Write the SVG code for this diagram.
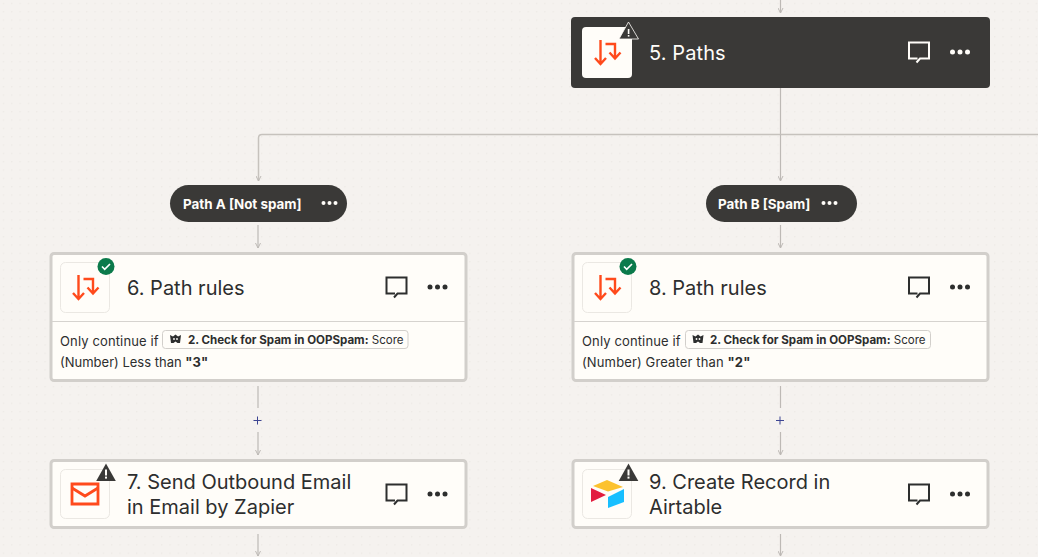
<svg xmlns="http://www.w3.org/2000/svg" width="1038" height="557" viewBox="0 0 1038 557">
<style>
text{font-family:Inter,"Liberation Sans",sans-serif}
.card{fill:#fffdf9;stroke:#d2cfcb;stroke-width:3}
.ibox{fill:#fffdf9;stroke:#ebe8e3;stroke-width:1}
.title{font-size:20px;fill:#2d2e2e}
.sub{font-size:13px;fill:#2d2e2e}
.wide{letter-spacing:.13px}
.chip{fill:#fffdf9;stroke:#d2cfcb;stroke-width:1}
.chipt{font-size:11.55px;fill:#2d2e2e}
.b{font-weight:700}
.pillt{font-size:13.4px;font-weight:700;fill:#fffdf9}
.line{fill:none;stroke:#bdb9b5;stroke-width:1.2}
.plus{stroke:#3d4592;stroke-width:1;fill:none}
.rule{stroke:#d6d3cf;stroke-width:1}
</style>
<defs>
<pattern id="dots" width="8.33" height="8.33" patternUnits="userSpaceOnUse"><rect x="3" y="3" width="1" height="1" fill="#e6e3de"/></pattern>
<marker id="arr" markerWidth="8" markerHeight="6" refX="6.5" refY="3" orient="auto" markerUnits="userSpaceOnUse"><path d="M1.5 .5L6.5 3L1.5 5.5" fill="none" stroke="#bdb9b5" stroke-width="1"/></marker>
<g id="paths-icon" fill="none" stroke="#ff4a1c" stroke-width="2.4">
<path d="M0-12V11.500M-5.500 6L0 12L5.500 6"/>
<path d="M5-8H14.500V6M9 .5L14.500 6.500L20 .5"/>
</g>
<g id="comment"><path d="M-2.500 10.500L1 6.500H10V-9.500H-10V6.500H-1.500" fill="none" stroke-width="2"/></g>
<g id="warn"><path d="M0-9.500L9.800 8H-9.800Z" fill="#3a3937"/><rect x="-1" y="-3.500" width="2" height="6" fill="#fffdf9"/><rect x="-1" y="3.600" width="2" height="2" fill="#fffdf9"/></g>
<g id="ok"><circle r="8.500" fill="#0b7a4b"/><path d="M-4 0L-1.300 2.800L4-2.500" fill="none" stroke="#fff" stroke-width="1.700"/></g>
<g id="oop"><path d="M-5.500-4L-2.500-2.500L0-4.500L2.500-2.500L5.500-4L4.500 4H2L0 2.500L-2 4H-4.500Z" fill="#2d2e2e"/><circle cx="-1.500" cy="0" r=".9" fill="#fffdf9"/><circle cx="1.500" cy="0" r=".9" fill="#fffdf9"/></g>
</defs>
<rect width="1038" height="557" fill="#f5f2ef"/>
<rect width="1038" height="557" fill="url(#dots)"/>
<g id="connectors">
<path class="line" marker-end="url(#arr)" d="M780.500 0V13"/>
<path class="line" d="M780.500 88V134.500"/>
<path class="line" style="stroke:#c6c2bd;stroke-width:1.500" d="M1038 134.500H262Q258.500 134.500 258.500 138V181" marker-end="url(#arr)"/>
<path class="line" marker-end="url(#arr)" d="M780.500 134.500V181"/>
<path class="line" marker-end="url(#arr)" d="M258 225V248"/>
<path class="line" marker-end="url(#arr)" d="M780.500 225V248"/>
<path class="line" d="M258 386V408"/><path class="line" marker-end="url(#arr)" d="M258 432V455"/>
<path class="line" d="M780.500 386V408"/><path class="line" marker-end="url(#arr)" d="M780.500 432V455"/>
<path class="line" marker-end="url(#arr)" d="M258 534V556"/>
<path class="line" marker-end="url(#arr)" d="M780.500 534V556"/>
<path class="plus" d="M253.500 420.500H261.500M257.500 416.500V424.500"/>
<path class="plus" d="M776 420.500H784M780 416.500V424.500"/>
</g>
<g id="node-5">
<rect x="571" y="17" width="419" height="71" rx="4" fill="#3a3937"/>
<rect x="582" y="27" width="50" height="51" rx="4" fill="#fffdf9"/>
<use href="#paths-icon" x="600.500" y="52"/>
<path d="M628.500 22L638.500 39H619Z" fill="#3a3937" stroke="#fffdf9" stroke-width=".8"/>
<rect x="627.800" y="29" width="1.600" height="5" fill="#fffdf9"/><rect x="627.800" y="35" width="1.600" height="1.600" fill="#fffdf9"/>
<text x="649" y="60" class="title" style="fill:#fffdf9;letter-spacing:.1px">5. Paths</text>
<use href="#comment" x="919" y="52" stroke="#fffdf9"/>
<g fill="#fffdf9"><circle cx="952.500" cy="52" r="2.500"/><circle cx="960" cy="52" r="2.500"/><circle cx="967.500" cy="52" r="2.500"/></g>
</g>
<g id="pill-a">
<rect x="170" y="185" width="177" height="37" rx="18.500" fill="#3a3937"/>
<text x="183" y="209" class="pillt">Path A [Not spam]</text>
<g fill="#fffdf9"><circle cx="323.500" cy="203" r="2"/><circle cx="329.500" cy="203" r="2"/><circle cx="335.500" cy="203" r="2"/></g>
</g>
<g id="pill-b">
<rect x="706" y="185" width="151" height="37" rx="18.500" fill="#3a3937"/>
<text x="718" y="209" class="pillt">Path B [Spam]</text>
<g fill="#fffdf9"><circle cx="823.500" cy="203" r="2"/><circle cx="829.500" cy="203" r="2"/><circle cx="835.500" cy="203" r="2"/></g>
</g>
<g id="node-6">
<rect class="card" x="51" y="253.500" width="415" height="127" rx="3"/>
<rect class="ibox" x="60.500" y="262.500" width="49" height="50" rx="5"/>
<use href="#paths-icon" x="78.500" y="287"/>
<use href="#ok" x="106" y="266.500"/>
<text x="127" y="295" class="title">6. Path rules</text>
<use href="#comment" x="396.500" y="287" stroke="#2d2e2e"/>
<g fill="#2d2e2e"><circle cx="430" cy="287" r="2.500"/><circle cx="437.500" cy="287" r="2.500"/><circle cx="445" cy="287" r="2.500"/></g>
<line class="rule" x1="52" y1="321.500" x2="465" y2="321.500"/>
<text x="60" y="346" class="sub wide">Only continue if</text>
<rect class="chip" x="162.500" y="330.500" width="245.500" height="18" rx="3"/>
<use href="#oop" x="175.500" y="339"/>
<text x="188" y="344" class="chipt"><tspan class="b">2. Check for Spam in OOPSpam:</tspan> Score</text>
<text x="60" y="367" class="sub">(Number) Less than <tspan class="b">"3"</tspan></text>
</g>
<g id="node-8">
<rect class="card" x="573" y="253.500" width="415" height="127" rx="3"/>
<rect class="ibox" x="582.500" y="262.500" width="49" height="50" rx="5"/>
<use href="#paths-icon" x="600.500" y="287"/>
<use href="#ok" x="628" y="266.500"/>
<text x="649" y="295" class="title">8. Path rules</text>
<use href="#comment" x="919" y="287" stroke="#2d2e2e"/>
<g fill="#2d2e2e"><circle cx="952.500" cy="287" r="2.500"/><circle cx="960" cy="287" r="2.500"/><circle cx="967.500" cy="287" r="2.500"/></g>
<line class="rule" x1="574" y1="321.500" x2="987" y2="321.500"/>
<text x="582" y="346" class="sub wide">Only continue if</text>
<rect class="chip" x="685.500" y="330.500" width="245" height="18" rx="3"/>
<use href="#oop" x="698" y="339"/>
<text x="710" y="344" class="chipt"><tspan class="b">2. Check for Spam in OOPSpam:</tspan> Score</text>
<text x="582" y="367" class="sub wide">(Number) Greater than <tspan class="b">"2"</tspan></text>
</g>
<g id="node-7">
<rect class="card" x="51" y="460.500" width="415" height="67" rx="3"/>
<rect class="ibox" x="60.500" y="469.500" width="49" height="49" rx="5"/>
<path d="M72 484H98V504H72Z" fill="none" stroke="#ff4a1c" stroke-width="2.800"/>
<path d="M72 488L85 496L98 488" fill="none" stroke="#ff4a1c" stroke-width="2.800"/>
<use href="#warn" x="106" y="473"/>
<text class="title"><tspan x="127" y="489">7. Send Outbound Email</tspan><tspan x="127" y="514">in Email by Zapier</tspan></text>
<use href="#comment" x="396.500" y="494" stroke="#2d2e2e"/>
<g fill="#2d2e2e"><circle cx="430" cy="494" r="2.500"/><circle cx="437.500" cy="494" r="2.500"/><circle cx="445" cy="494" r="2.500"/></g>
</g>
<g id="node-9">
<rect class="card" x="573" y="460.500" width="415" height="67" rx="3"/>
<rect class="ibox" x="582.500" y="469.500" width="49" height="49" rx="5"/>
<path d="M607 480L623 487L608 491.500L593 486Z" fill="#fcc22e"/>
<path d="M608 497L624 489V502L608 508Z" fill="#18bfff"/>
<path d="M591 488L606 495L591 502Z" fill="#e21d3f"/>
<use href="#warn" x="628.500" y="473"/>
<text class="title"><tspan x="649" y="489">9. Create Record in</tspan><tspan x="649" y="514">Airtable</tspan></text>
<use href="#comment" x="919" y="494" stroke="#2d2e2e"/>
<g fill="#2d2e2e"><circle cx="952.500" cy="494" r="2.500"/><circle cx="960" cy="494" r="2.500"/><circle cx="967.500" cy="494" r="2.500"/></g>
</g>
</svg>
